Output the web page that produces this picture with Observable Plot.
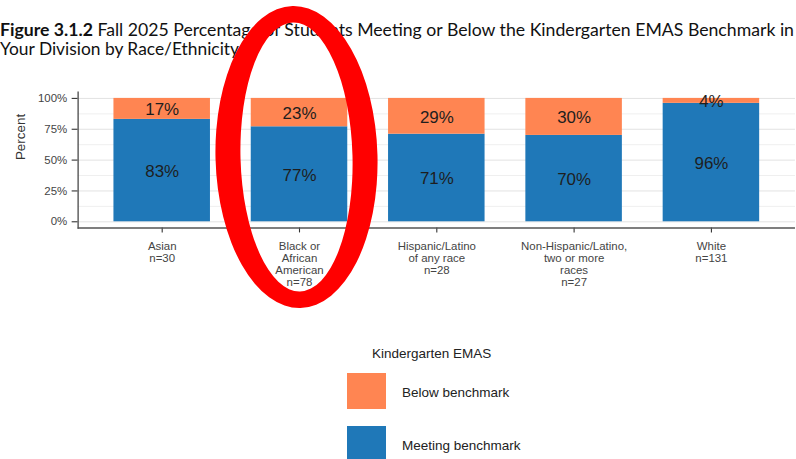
<!DOCTYPE html>
<html>
<head>
<meta charset="utf-8">
<script src="https://cdn.jsdelivr.net/npm/d3@7"></script>
<script src="https://cdn.jsdelivr.net/npm/@observablehq/plot@0.6"></script>
<style>
  html, body { margin: 0; padding: 0; background: #fff; overflow: hidden; }
  #page { position: relative; width: 796px; height: 459px; overflow: hidden; }
  #title { position: absolute; left: 0; top: 0; }
  #chart { position: absolute; left: 0; top: 80px; width: 796px; overflow: hidden; }
  #legend { position: absolute; left: 0; top: 0; width: 796px; height: 459px; font-family: "Liberation Sans", Arial, sans-serif; color: #222; }
  #overlay { position: absolute; left: 0; top: 0; pointer-events: none; }
</style>
</head>
<body>
<div id="page">
  <svg id="title" width="796" height="70"></svg>
  <div id="chart"></div>
  <div id="legend"></div>
  <svg id="overlay" width="796" height="459"></svg>
</div>
<script>
// ---- data ----
const titleBold = "Figure 3.1.2";
const titleRest = " Fall 2025 Percentage of Students Meeting or Below the Kindergarten EMAS Benchmark in";
const titleLine2 = "Your Division by Race/Ethnicity";
const groups = [
  "Asian\nn=30",
  "Black or\nAfrican\nAmerican\nn=78",
  "Hispanic/Latino\nof any race\nn=28",
  "Non-Hispanic/Latino,\ntwo or more\nraces\nn=27",
  "White\nn=131"
];
const meeting = [83, 77, 71, 70, 96];
const below = [17, 23, 29, 30, 4];
const statuses = ["Meeting benchmark", "Below benchmark"];
const colors = ["#1F78B8", "#FF8552"];
const legendTitle = "Kindergarten EMAS";
const legendOrder = ["Below benchmark", "Meeting benchmark"];
const yTicks = [0, 25, 50, 75, 100];
const yMinor = [12.5, 37.5, 62.5, 87.5];
const yLabel = "Percent";
const highlighted = groups[1];

// ---- rows ----
const rows = [];
groups.forEach((g, i) => {
  rows.push({group: g, status: statuses[0], value: meeting[i]});
  rows.push({group: g, status: statuses[1], value: below[i]});
});

// ---- title ----
{
  const svg = d3.select("#title");
  const t1 = svg.append("text").attr("x", 0).attr("y", 36)
    .attr("font-family", "Lato, 'Open Sans', sans-serif").attr("font-size", 16.5).attr("fill", "#111")
    .attr("textLength", 794).attr("lengthAdjust", "spacingAndGlyphs");
  t1.append("tspan").attr("font-weight", "bold").text(titleBold);
  t1.append("tspan").text(titleRest);
  svg.append("text").attr("x", 0).attr("y", 55)
    .attr("font-family", "Lato, 'Open Sans', sans-serif").attr("font-size", 16.5).attr("fill", "#111")
    .attr("textLength", 239).attr("lengthAdjust", "spacingAndGlyphs")
    .text(titleLine2);
}

// ---- chart ----
const plot = Plot.plot({
  width: 800,
  height: 220,
  marginLeft: 78,
  marginRight: 1,
  marginTop: 11.8,
  marginBottom: 71.8,
  style: {fontFamily: "'Liberation Sans', Arial, sans-serif", fontSize: "11.5px", color: "#444", background: "transparent"},
  x: {domain: groups, paddingInner: 0.3, paddingOuter: 0.25, label: null},
  y: {domain: [-5, 105], label: null},
  color: {domain: statuses, range: colors},
  marks: [
    Plot.ruleY(yMinor, {stroke: "#efefef", strokeWidth: 1}),
    Plot.ruleY(yTicks, {stroke: "#e2e2e2", strokeWidth: 1}),
    Plot.barY(rows, Plot.stackY({x: "group", y: "value", fill: "status", order: statuses})),
    Plot.text(rows, Plot.stackY({x: "group", y: "value", order: statuses, z: "status",
      text: d => d.value + "%", fontSize: 17, fill: "#1e1e1e", dy: 1})),
    Plot.axisY(yTicks, {tickFormat: d => d + "%", tickSize: 6, tickPadding: 5, stroke: "#333", strokeWidth: 1.1,
      label: null, fontSize: 11.5}),
    Plot.text([yLabel], {frameAnchor: "left", text: d => d, rotate: -90, dx: -58, fontSize: 13.5, fill: "#333"}),
    Plot.axisX({tickSize: 5, tickPadding: 8, stroke: "#333", strokeWidth: 1.1, lineHeight: 1.07, fontSize: 11.5}),
    Plot.ruleY([-5], {stroke: "#555", strokeWidth: 1.4}),
    Plot.frame({anchor: "left", stroke: "#555", strokeWidth: 1.4})
  ]
});
document.getElementById("chart").appendChild(plot);

// ---- legend ----
{
  const lg = document.getElementById("legend");
  const title = document.createElement("div");
  Object.assign(title.style, {position: "absolute", left: "372px", top: "346px", fontSize: "13.5px"});
  title.textContent = legendTitle;
  lg.appendChild(title);
  legendOrder.forEach((s, i) => {
    const sw = document.createElement("div");
    Object.assign(sw.style, {position: "absolute", left: "347px", top: (373 + i * 53) + "px", width: "39px", height: "36px",
      background: colors[statuses.indexOf(s)]});
    lg.appendChild(sw);
    const lab = document.createElement("div");
    Object.assign(lab.style, {position: "absolute", left: "402px", top: (385 + i * 53) + "px", fontSize: "13.5px"});
    lab.textContent = s;
    lg.appendChild(lab);
  });
}

// ---- highlight ring around the highlighted group ----
{
  const xs = plot.scale("x");
  const cx = xs.apply(highlighted) + xs.bandwidth / 2 - 4;
  const cy = 157;
  const ring = (rx, ry) => `M${cx - rx},${cy}A${rx},${ry} 0 1 0 ${cx + rx},${cy}A${rx},${ry} 0 1 0 ${cx - rx},${cy}Z`;
  d3.select("#overlay").append("path")
    .attr("d", ring(81, 151) + ring(56, 134.5))
    .attr("fill-rule", "evenodd")
    .attr("transform", `rotate(-1.5 ${cx} ${cy})`)
    .attr("fill", "#FF0000");
}
</script>
</body>
</html>
